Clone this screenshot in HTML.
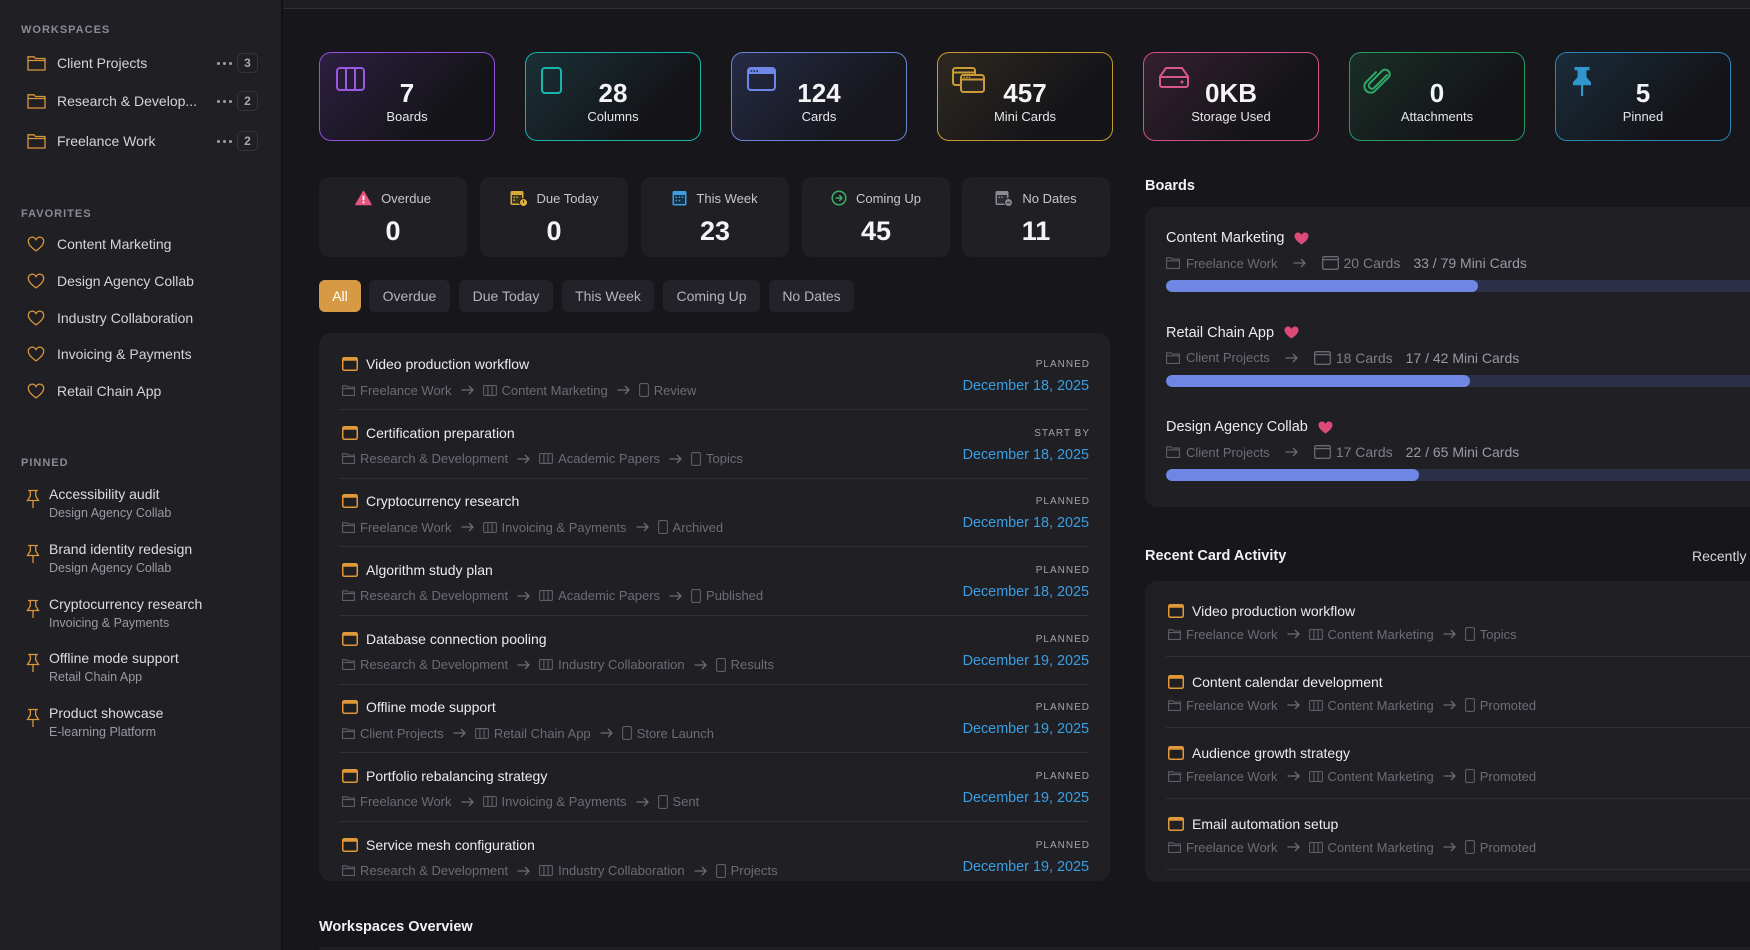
<!DOCTYPE html>
<html><head><meta charset="utf-8">
<style>
*{box-sizing:border-box;margin:0;padding:0}
html,body{width:1750px;height:950px;overflow:hidden;background:#16161b;font-family:"Liberation Sans",sans-serif;color:#e6e6eb}
#root{position:relative;width:1750px;height:950px;overflow:hidden;background:#16161b}
#side{position:absolute;left:0;top:0;width:283px;height:950px;background:#1f1f24;border-right:2px solid #111114}
.sh{position:absolute;left:21px;font-size:11px;font-weight:bold;letter-spacing:1px;color:#8a8a94;line-height:12px}
.si{position:absolute;left:0;width:281px;height:30px;font-size:14px;color:#d4d4da;line-height:30px}
.si svg{position:absolute;left:27px;top:7px}
.si .t{position:absolute;left:57px;top:0}
.dots{position:absolute;left:217px;top:14px;width:15px;height:3px}
.dots i{position:absolute;top:0;width:3px;height:3px;border-radius:50%;background:#a0a0a8}
.badge{position:absolute;left:237px;top:5px;width:21px;height:20px;border:1px solid #34343b;border-radius:5px;font-size:12px;font-weight:bold;color:#a8a8b0;text-align:center;line-height:18px}
.pi{position:absolute;left:0;width:281px;height:40px}
.pi svg{position:absolute;left:26px;top:4px}
.pi .a{position:absolute;left:49px;top:0;font-size:14px;color:#dcdce2;line-height:18px}
.pi .b{position:absolute;left:49px;top:20px;font-size:12.5px;color:#9a9aa4;line-height:16px}
#top{position:absolute;left:283px;top:0;width:1467px;height:9px;background:#1d1d22;border-bottom:1px solid #2e2e35}
.sc{position:absolute;top:52px;width:176px;height:89px;border:1.5px solid;border-radius:12px}
.sc svg{position:absolute}
.sc .n{position:absolute;left:0;right:0;top:26px;text-align:center;font-size:26px;font-weight:bold;line-height:28px;color:#f4f4f7}
.sc .l{position:absolute;left:0;right:0;top:56px;text-align:center;font-size:13px;line-height:16px;color:#e6e6ea}
.tb{position:absolute;top:177px;width:148px;height:80px;background:#1f1f24;border-radius:10px}
.tb .h{position:absolute;left:0;right:0;top:12px;height:18px;display:flex;justify-content:center;align-items:center;font-size:13px;color:#c6c6ce}
.tb .h svg{margin-right:9px}
.tb .v{position:absolute;left:0;right:0;top:40px;text-align:center;font-size:27px;font-weight:bold;line-height:28px;color:#f4f4f7}
.chip{position:absolute;top:280px;height:32px;border-radius:6px;background:#222228;font-size:14px;color:#b4b4bc;text-align:center;line-height:32px}
.panel{position:absolute;background:#1f1f24;border-radius:12px;overflow:hidden}
.tr{position:absolute;left:20px;right:21px;height:69px;border-bottom:1px solid #2f2f36}
.tt{position:absolute;left:3px;top:14px;height:18px;display:flex;align-items:center;font-size:14px;color:#ececf0;white-space:nowrap}
.tt svg{margin-right:8px}
.tm{position:absolute;left:3px;top:40px;height:18px;display:flex;align-items:center;font-size:13px;color:#6c6c76;white-space:nowrap}
.tm .ic{margin-right:5px}
.tm .ar{margin:0 9px}
.ts{position:absolute;right:-1px;top:18px;font-size:10px;letter-spacing:1px;color:#a3a3ab;line-height:12px}
.td{position:absolute;right:0;top:36px;font-size:14.4px;color:#3a9fe2;line-height:18px}
.hd{position:absolute;font-size:14.5px;font-weight:bold;color:#f2f2f5;line-height:18px}
.bi{position:absolute;left:21px;right:0;height:90px}
.bt{position:absolute;left:0;top:22px;height:18px;display:flex;align-items:center;font-size:14.5px;color:#ececf0;white-space:nowrap}
.bt svg{margin-left:10px}
.bm{position:absolute;left:0;top:47px;height:18px;display:flex;align-items:center;font-size:13px;color:#6c6c76;white-space:nowrap}
.bm .cc{font-size:14px;color:#7e7e88}
.bm .mc{font-size:14px;color:#9a9aa6;margin-left:13px}
.bar{position:absolute;left:0;top:73px;width:748px;height:12px;border-radius:6px;background:#2c3048;overflow:hidden}
.bar i{position:absolute;left:0;top:0;height:12px;border-radius:6px;background:#6f87e2}
.ar2{position:absolute;left:21px;right:21px;height:71px;border-bottom:1px solid #2f2f36}
.ar2 .tt{left:2px;top:16px}
.ar2 .tm{left:2px;top:39px}
</style></head><body>
<div id="root">

<div id="side">
  <div class="sh" style="top:24px">WORKSPACES</div>
  <div class="si" style="top:48px"><svg width="19" height="16" viewBox="0 0 19 16"><path d="M1 1.8h6l1.4 1.7H18V15H1z M1 5.5h17" fill="none" stroke="#d9963a" stroke-width="1.3"/></svg><span class="t">Client Projects</span><div class="dots"><i style="left:0"></i><i style="left:6px"></i><i style="left:12px"></i></div><div class="badge">3</div></div>
  <div class="si" style="top:86px"><svg width="19" height="16" viewBox="0 0 19 16"><path d="M1 1.8h6l1.4 1.7H18V15H1z M1 5.5h17" fill="none" stroke="#d9963a" stroke-width="1.3"/></svg><span class="t">Research &amp; Develop...</span><div class="dots"><i style="left:0"></i><i style="left:6px"></i><i style="left:12px"></i></div><div class="badge">2</div></div>
  <div class="si" style="top:126px"><svg width="19" height="16" viewBox="0 0 19 16"><path d="M1 1.8h6l1.4 1.7H18V15H1z M1 5.5h17" fill="none" stroke="#d9963a" stroke-width="1.3"/></svg><span class="t">Freelance Work</span><div class="dots"><i style="left:0"></i><i style="left:6px"></i><i style="left:12px"></i></div><div class="badge">2</div></div>

  <div class="sh" style="top:208px">FAVORITES</div>
  <div class="si" style="top:229px"><svg width="18" height="16" viewBox="0 0 18 16"><path d="M9 14.8C9 14.8 1.3 10 1.3 5.2 1.3 2.8 3.1 1.1 5.2 1.1 7 1.1 8.3 2.3 9 3.6 9.7 2.3 11 1.1 12.8 1.1 14.9 1.1 16.7 2.8 16.7 5.2 16.7 10 9 14.8 9 14.8Z" fill="none" stroke="#d9963a" stroke-width="1.3"/></svg><span class="t">Content Marketing</span></div>
  <div class="si" style="top:266px"><svg width="18" height="16" viewBox="0 0 18 16"><path d="M9 14.8C9 14.8 1.3 10 1.3 5.2 1.3 2.8 3.1 1.1 5.2 1.1 7 1.1 8.3 2.3 9 3.6 9.7 2.3 11 1.1 12.8 1.1 14.9 1.1 16.7 2.8 16.7 5.2 16.7 10 9 14.8 9 14.8Z" fill="none" stroke="#d9963a" stroke-width="1.3"/></svg><span class="t">Design Agency Collab</span></div>
  <div class="si" style="top:303px"><svg width="18" height="16" viewBox="0 0 18 16"><path d="M9 14.8C9 14.8 1.3 10 1.3 5.2 1.3 2.8 3.1 1.1 5.2 1.1 7 1.1 8.3 2.3 9 3.6 9.7 2.3 11 1.1 12.8 1.1 14.9 1.1 16.7 2.8 16.7 5.2 16.7 10 9 14.8 9 14.8Z" fill="none" stroke="#d9963a" stroke-width="1.3"/></svg><span class="t">Industry Collaboration</span></div>
  <div class="si" style="top:339px"><svg width="18" height="16" viewBox="0 0 18 16"><path d="M9 14.8C9 14.8 1.3 10 1.3 5.2 1.3 2.8 3.1 1.1 5.2 1.1 7 1.1 8.3 2.3 9 3.6 9.7 2.3 11 1.1 12.8 1.1 14.9 1.1 16.7 2.8 16.7 5.2 16.7 10 9 14.8 9 14.8Z" fill="none" stroke="#d9963a" stroke-width="1.3"/></svg><span class="t">Invoicing &amp; Payments</span></div>
  <div class="si" style="top:376px"><svg width="18" height="16" viewBox="0 0 18 16"><path d="M9 14.8C9 14.8 1.3 10 1.3 5.2 1.3 2.8 3.1 1.1 5.2 1.1 7 1.1 8.3 2.3 9 3.6 9.7 2.3 11 1.1 12.8 1.1 14.9 1.1 16.7 2.8 16.7 5.2 16.7 10 9 14.8 9 14.8Z" fill="none" stroke="#d9963a" stroke-width="1.3"/></svg><span class="t">Retail Chain App</span></div>

  <div class="sh" style="top:457px">PINNED</div>
  <div class="pi" style="top:485px"><svg width="14" height="20" viewBox="0 0 14 20"><path d="M2 1.5h10M4.3 1.5v5.5L1.5 11.5h11L9.7 7V1.5M7 11.5V19" fill="none" stroke="#d9963a" stroke-width="1.3"/></svg><div class="a">Accessibility audit</div><div class="b">Design Agency Collab</div></div>
  <div class="pi" style="top:540px"><svg width="14" height="20" viewBox="0 0 14 20"><path d="M2 1.5h10M4.3 1.5v5.5L1.5 11.5h11L9.7 7V1.5M7 11.5V19" fill="none" stroke="#d9963a" stroke-width="1.3"/></svg><div class="a">Brand identity redesign</div><div class="b">Design Agency Collab</div></div>
  <div class="pi" style="top:595px"><svg width="14" height="20" viewBox="0 0 14 20"><path d="M2 1.5h10M4.3 1.5v5.5L1.5 11.5h11L9.7 7V1.5M7 11.5V19" fill="none" stroke="#d9963a" stroke-width="1.3"/></svg><div class="a">Cryptocurrency research</div><div class="b">Invoicing &amp; Payments</div></div>
  <div class="pi" style="top:649px"><svg width="14" height="20" viewBox="0 0 14 20"><path d="M2 1.5h10M4.3 1.5v5.5L1.5 11.5h11L9.7 7V1.5M7 11.5V19" fill="none" stroke="#d9963a" stroke-width="1.3"/></svg><div class="a">Offline mode support</div><div class="b">Retail Chain App</div></div>
  <div class="pi" style="top:704px"><svg width="14" height="20" viewBox="0 0 14 20"><path d="M2 1.5h10M4.3 1.5v5.5L1.5 11.5h11L9.7 7V1.5M7 11.5V19" fill="none" stroke="#d9963a" stroke-width="1.3"/></svg><div class="a">Product showcase</div><div class="b">E-learning Platform</div></div>
</div>

<div id="top"></div>

<!-- stat cards -->
<div class="sc" style="left:319px;border-color:#9152d8;background:linear-gradient(135deg,#2c1f40 0%,#141418 72%)">
  <svg style="left:16px;top:14px" width="29" height="24" viewBox="0 0 29 24"><rect x="1" y="1" width="27" height="22" rx="3" fill="none" stroke="#9b58e0" stroke-width="2"/><path d="M10 1v22M19 1v22" stroke="#9b58e0" stroke-width="2"/></svg>
  <div class="n">7</div><div class="l">Boards</div></div>
<div class="sc" style="left:525px;border-color:#17b3aa;background:linear-gradient(135deg,#1a3036 0%,#141418 72%)">
  <svg style="left:15px;top:14px" width="21" height="27" viewBox="0 0 21 27"><rect x="1" y="1" width="19" height="25" rx="3" fill="none" stroke="#18b5ac" stroke-width="2"/></svg>
  <div class="n">28</div><div class="l">Columns</div></div>
<div class="sc" style="left:731px;border-color:#6a84d8;background:linear-gradient(135deg,#262b46 0%,#16161c 72%)">
  <svg style="left:15px;top:14px" width="29" height="24" viewBox="0 0 29 24"><rect x="1" y="1" width="27" height="22" rx="3" fill="none" stroke="#6e88e8" stroke-width="2"/><path d="M1 4a3 3 0 0 1 3-3h21a3 3 0 0 1 3 3v3H1z" fill="#6e88e8"/><circle cx="4.5" cy="4" r="0.9" fill="#1a1d2e"/><circle cx="7.3" cy="4" r="0.9" fill="#1a1d2e"/><circle cx="10.1" cy="4" r="0.9" fill="#1a1d2e"/></svg>
  <div class="n">124</div><div class="l">Cards</div></div>
<div class="sc" style="left:937px;border-color:#c89a35;background:linear-gradient(135deg,#2e2820 0%,#141418 72%)">
  <svg style="left:14px;top:14px" width="33" height="26" viewBox="0 0 33 26"><rect x="1" y="1" width="22" height="17" rx="2.5" fill="none" stroke="#c99c38" stroke-width="2"/><path d="M1 5.5h22" stroke="#c99c38" stroke-width="2"/><rect x="9" y="8" width="23" height="17" rx="2.5" fill="#2a2520" stroke="#c99c38" stroke-width="2"/><path d="M9 12.5h23" stroke="#c99c38" stroke-width="2"/><circle cx="12.5" cy="10.3" r="0.8" fill="#c99c38"/><circle cx="15" cy="10.3" r="0.8" fill="#c99c38"/><circle cx="17.5" cy="10.3" r="0.8" fill="#c99c38"/></svg>
  <div class="n">457</div><div class="l">Mini Cards</div></div>
<div class="sc" style="left:1143px;border-color:#d0508a;background:linear-gradient(135deg,#34202f 0%,#141418 72%)">
  <svg style="left:15px;top:14px" width="30" height="21" viewBox="0 0 30 21"><path d="M7 1h16l6 8.5V18a2 2 0 0 1-2 2H3a2 2 0 0 1-2-2V9.5z" fill="none" stroke="#d6578f" stroke-width="2" stroke-linejoin="round"/><path d="M1 10h28" stroke="#d6578f" stroke-width="2"/><circle cx="23" cy="15" r="1.5" fill="#d6578f"/></svg>
  <div class="n">0KB</div><div class="l">Storage Used</div></div>
<div class="sc" style="left:1349px;border-color:#2b9a62;background:linear-gradient(135deg,#1a2e26 0%,#141418 72%)">
  <svg style="left:13px;top:13px" width="28" height="28" viewBox="0 0 28 28"><path d="M24 6 L11 19 a3.2 3.2 0 0 1-4.5-4.5 L19 2 a4.5 4.5 0 0 1 6.4 6.4 L12 21.8 a6.2 6.2 0 0 1-8.8-8.8 L13 3.2" fill="none" stroke="#2fa866" stroke-width="2" stroke-linecap="round" transform="translate(0,3)"/></svg>
  <div class="n">0</div><div class="l">Attachments</div></div>
<div class="sc" style="left:1555px;border-color:#2a85b5;background:linear-gradient(135deg,#1a2c3a 0%,#141418 72%)">
  <svg style="left:15px;top:13px" width="22" height="32" viewBox="0 0 22 32"><path d="M3.5 1h15v3.2h-3v7l4.5 5v3H2v-3l4.5-5v-7h-3z" fill="#2f97cc"/><rect x="10" y="18" width="2.2" height="12" fill="#2f97cc"/></svg>
  <div class="n">5</div><div class="l">Pinned</div></div>

<!-- timeline boxes -->
<div class="tb" style="left:319px"><div class="h"><svg width="17" height="16" viewBox="0 0 17 16"><path d="M8.5 1.5L16 14.5H1z" fill="#e4557f" stroke="#e4557f" stroke-linejoin="round" stroke-width="1.5"/><path d="M8.5 5.8v4.5" stroke="#fff" stroke-width="1.7"/><circle cx="8.5" cy="12.4" r="1" fill="#fff"/></svg>Overdue</div><div class="v">0</div></div>
<div class="tb" style="left:480px"><div class="h"><svg width="18" height="17" viewBox="0 0 18 17"><rect x="0.5" y="1" width="13" height="14" rx="1.5" fill="#d8aa3a"/><rect x="2" y="5" width="10" height="8.5" fill="#3a3320"/><rect x="3.5" y="6.5" width="1.5" height="1.5" fill="#d8aa3a"/><rect x="6.2" y="6.5" width="1.5" height="1.5" fill="#d8aa3a"/><rect x="3.5" y="9.5" width="1.5" height="1.5" fill="#d8aa3a"/><circle cx="13.5" cy="12.5" r="4" fill="#e6b43c" stroke="#1f1f24" stroke-width="1"/><path d="M13.5 10.3v2.6" stroke="#3a3320" stroke-width="1.2"/></svg>Due Today</div><div class="v">0</div></div>
<div class="tb" style="left:641px"><div class="h"><svg width="15" height="16" viewBox="0 0 15 16"><rect x="0.5" y="1" width="14" height="14.5" rx="1.5" fill="#3d9fe2"/><rect x="2" y="5" width="11" height="9" fill="#173248"/><rect x="3.5" y="6.5" width="1.5" height="1.5" fill="#3d9fe2"/><rect x="6.7" y="6.5" width="1.5" height="1.5" fill="#3d9fe2"/><rect x="9.9" y="6.5" width="1.5" height="1.5" fill="#3d9fe2"/><rect x="3.5" y="9.8" width="1.5" height="1.5" fill="#3d9fe2"/><rect x="6.7" y="9.8" width="1.5" height="1.5" fill="#3d9fe2"/></svg>This Week</div><div class="v">23</div></div>
<div class="tb" style="left:802px"><div class="h"><svg width="16" height="16" viewBox="0 0 16 16"><circle cx="8" cy="8" r="6.8" fill="none" stroke="#3bb06a" stroke-width="1.5"/><path d="M4.5 8h6.5M8.3 5.2L11 8l-2.7 2.8" fill="none" stroke="#3bb06a" stroke-width="1.5"/></svg>Coming Up</div><div class="v">45</div></div>
<div class="tb" style="left:962px"><div class="h"><svg width="18" height="17" viewBox="0 0 18 17"><rect x="0.5" y="1" width="13" height="14" rx="1.5" fill="#8a8a94"/><rect x="2" y="5" width="10" height="8.5" fill="#2c2c33"/><rect x="3.5" y="6.5" width="1.5" height="1.5" fill="#8a8a94"/><rect x="6.2" y="6.5" width="1.5" height="1.5" fill="#8a8a94"/><circle cx="13.5" cy="12.5" r="4" fill="#8a8a94" stroke="#1f1f24" stroke-width="1"/><path d="M11.6 12.5h3.8" stroke="#2c2c33" stroke-width="1.3"/></svg>No Dates</div><div class="v">11</div></div>

<!-- chips -->
<div class="chip" style="left:319px;width:42px;background:#d69a45;color:#fff">All</div>
<div class="chip" style="left:369px;width:81px">Overdue</div>
<div class="chip" style="left:459px;width:94px">Due Today</div>
<div class="chip" style="left:562px;width:92px">This Week</div>
<div class="chip" style="left:663px;width:97px">Coming Up</div>
<div class="chip" style="left:769px;width:85px">No Dates</div>

<!-- task panel -->
<div class="panel" style="left:319px;top:333px;width:791px;height:548px">
<div class="tr" style="top:8px"><div class="tt"><svg width="16" height="14" viewBox="0 0 16 14"><rect x="0.75" y="0.75" width="14.5" height="12.5" rx="1.5" fill="none" stroke="#e0983a" stroke-width="1.5"/><rect x="0.75" y="0.75" width="14.5" height="3" fill="#e0983a"/></svg>Video production workflow</div><div class="tm"><svg class="ic" width="13" height="11" viewBox="0 0 13 11"><path d="M.6 .8h4.2l1 1.2h6.6v8.4H.6z M.6 3.6h11.8" fill="none" stroke="#5e5e68" stroke-width="1.1"/></svg>Freelance Work<svg class="ar" width="13" height="10" viewBox="0 0 13 10"><path d="M.5 5h11.5M8 1l4 4-4 4" fill="none" stroke="#6c6c76" stroke-width="1.3"/></svg><svg class="ic" width="14" height="11" viewBox="0 0 14 11"><rect x=".6" y=".6" width="12.8" height="9.8" rx="1" fill="none" stroke="#5e5e68" stroke-width="1.1"/><path d="M4.9 .6v9.8M9.1 .6v9.8" stroke="#5e5e68" stroke-width="1.1"/></svg>Content Marketing<svg class="ar" width="13" height="10" viewBox="0 0 13 10"><path d="M.5 5h11.5M8 1l4 4-4 4" fill="none" stroke="#6c6c76" stroke-width="1.3"/></svg><svg class="ic" width="10" height="14" viewBox="0 0 10 14"><rect x=".6" y=".6" width="8.8" height="12.8" rx="1.5" fill="none" stroke="#5e5e68" stroke-width="1.1"/></svg>Review</div><div class="ts">PLANNED</div><div class="td">December 18, 2025</div></div>

<div class="tr" style="top:76.65px"><div class="tt"><svg width="16" height="14" viewBox="0 0 16 14"><rect x="0.75" y="0.75" width="14.5" height="12.5" rx="1.5" fill="none" stroke="#e0983a" stroke-width="1.5"/><rect x="0.75" y="0.75" width="14.5" height="3" fill="#e0983a"/></svg>Certification preparation</div><div class="tm"><svg class="ic" width="13" height="11" viewBox="0 0 13 11"><path d="M.6 .8h4.2l1 1.2h6.6v8.4H.6z M.6 3.6h11.8" fill="none" stroke="#5e5e68" stroke-width="1.1"/></svg>Research &amp; Development<svg class="ar" width="13" height="10" viewBox="0 0 13 10"><path d="M.5 5h11.5M8 1l4 4-4 4" fill="none" stroke="#6c6c76" stroke-width="1.3"/></svg><svg class="ic" width="14" height="11" viewBox="0 0 14 11"><rect x=".6" y=".6" width="12.8" height="9.8" rx="1" fill="none" stroke="#5e5e68" stroke-width="1.1"/><path d="M4.9 .6v9.8M9.1 .6v9.8" stroke="#5e5e68" stroke-width="1.1"/></svg>Academic Papers<svg class="ar" width="13" height="10" viewBox="0 0 13 10"><path d="M.5 5h11.5M8 1l4 4-4 4" fill="none" stroke="#6c6c76" stroke-width="1.3"/></svg><svg class="ic" width="10" height="14" viewBox="0 0 10 14"><rect x=".6" y=".6" width="8.8" height="12.8" rx="1.5" fill="none" stroke="#5e5e68" stroke-width="1.1"/></svg>Topics</div><div class="ts">START BY</div><div class="td">December 18, 2025</div></div>

<div class="tr" style="top:145.3px"><div class="tt"><svg width="16" height="14" viewBox="0 0 16 14"><rect x="0.75" y="0.75" width="14.5" height="12.5" rx="1.5" fill="none" stroke="#e0983a" stroke-width="1.5"/><rect x="0.75" y="0.75" width="14.5" height="3" fill="#e0983a"/></svg>Cryptocurrency research</div><div class="tm"><svg class="ic" width="13" height="11" viewBox="0 0 13 11"><path d="M.6 .8h4.2l1 1.2h6.6v8.4H.6z M.6 3.6h11.8" fill="none" stroke="#5e5e68" stroke-width="1.1"/></svg>Freelance Work<svg class="ar" width="13" height="10" viewBox="0 0 13 10"><path d="M.5 5h11.5M8 1l4 4-4 4" fill="none" stroke="#6c6c76" stroke-width="1.3"/></svg><svg class="ic" width="14" height="11" viewBox="0 0 14 11"><rect x=".6" y=".6" width="12.8" height="9.8" rx="1" fill="none" stroke="#5e5e68" stroke-width="1.1"/><path d="M4.9 .6v9.8M9.1 .6v9.8" stroke="#5e5e68" stroke-width="1.1"/></svg>Invoicing &amp; Payments<svg class="ar" width="13" height="10" viewBox="0 0 13 10"><path d="M.5 5h11.5M8 1l4 4-4 4" fill="none" stroke="#6c6c76" stroke-width="1.3"/></svg><svg class="ic" width="10" height="14" viewBox="0 0 10 14"><rect x=".6" y=".6" width="8.8" height="12.8" rx="1.5" fill="none" stroke="#5e5e68" stroke-width="1.1"/></svg>Archived</div><div class="ts">PLANNED</div><div class="td">December 18, 2025</div></div>

<div class="tr" style="top:213.95px"><div class="tt"><svg width="16" height="14" viewBox="0 0 16 14"><rect x="0.75" y="0.75" width="14.5" height="12.5" rx="1.5" fill="none" stroke="#e0983a" stroke-width="1.5"/><rect x="0.75" y="0.75" width="14.5" height="3" fill="#e0983a"/></svg>Algorithm study plan</div><div class="tm"><svg class="ic" width="13" height="11" viewBox="0 0 13 11"><path d="M.6 .8h4.2l1 1.2h6.6v8.4H.6z M.6 3.6h11.8" fill="none" stroke="#5e5e68" stroke-width="1.1"/></svg>Research &amp; Development<svg class="ar" width="13" height="10" viewBox="0 0 13 10"><path d="M.5 5h11.5M8 1l4 4-4 4" fill="none" stroke="#6c6c76" stroke-width="1.3"/></svg><svg class="ic" width="14" height="11" viewBox="0 0 14 11"><rect x=".6" y=".6" width="12.8" height="9.8" rx="1" fill="none" stroke="#5e5e68" stroke-width="1.1"/><path d="M4.9 .6v9.8M9.1 .6v9.8" stroke="#5e5e68" stroke-width="1.1"/></svg>Academic Papers<svg class="ar" width="13" height="10" viewBox="0 0 13 10"><path d="M.5 5h11.5M8 1l4 4-4 4" fill="none" stroke="#6c6c76" stroke-width="1.3"/></svg><svg class="ic" width="10" height="14" viewBox="0 0 10 14"><rect x=".6" y=".6" width="8.8" height="12.8" rx="1.5" fill="none" stroke="#5e5e68" stroke-width="1.1"/></svg>Published</div><div class="ts">PLANNED</div><div class="td">December 18, 2025</div></div>

<div class="tr" style="top:282.6px"><div class="tt"><svg width="16" height="14" viewBox="0 0 16 14"><rect x="0.75" y="0.75" width="14.5" height="12.5" rx="1.5" fill="none" stroke="#e0983a" stroke-width="1.5"/><rect x="0.75" y="0.75" width="14.5" height="3" fill="#e0983a"/></svg>Database connection pooling</div><div class="tm"><svg class="ic" width="13" height="11" viewBox="0 0 13 11"><path d="M.6 .8h4.2l1 1.2h6.6v8.4H.6z M.6 3.6h11.8" fill="none" stroke="#5e5e68" stroke-width="1.1"/></svg>Research &amp; Development<svg class="ar" width="13" height="10" viewBox="0 0 13 10"><path d="M.5 5h11.5M8 1l4 4-4 4" fill="none" stroke="#6c6c76" stroke-width="1.3"/></svg><svg class="ic" width="14" height="11" viewBox="0 0 14 11"><rect x=".6" y=".6" width="12.8" height="9.8" rx="1" fill="none" stroke="#5e5e68" stroke-width="1.1"/><path d="M4.9 .6v9.8M9.1 .6v9.8" stroke="#5e5e68" stroke-width="1.1"/></svg>Industry Collaboration<svg class="ar" width="13" height="10" viewBox="0 0 13 10"><path d="M.5 5h11.5M8 1l4 4-4 4" fill="none" stroke="#6c6c76" stroke-width="1.3"/></svg><svg class="ic" width="10" height="14" viewBox="0 0 10 14"><rect x=".6" y=".6" width="8.8" height="12.8" rx="1.5" fill="none" stroke="#5e5e68" stroke-width="1.1"/></svg>Results</div><div class="ts">PLANNED</div><div class="td">December 19, 2025</div></div>

<div class="tr" style="top:351.25px"><div class="tt"><svg width="16" height="14" viewBox="0 0 16 14"><rect x="0.75" y="0.75" width="14.5" height="12.5" rx="1.5" fill="none" stroke="#e0983a" stroke-width="1.5"/><rect x="0.75" y="0.75" width="14.5" height="3" fill="#e0983a"/></svg>Offline mode support</div><div class="tm"><svg class="ic" width="13" height="11" viewBox="0 0 13 11"><path d="M.6 .8h4.2l1 1.2h6.6v8.4H.6z M.6 3.6h11.8" fill="none" stroke="#5e5e68" stroke-width="1.1"/></svg>Client Projects<svg class="ar" width="13" height="10" viewBox="0 0 13 10"><path d="M.5 5h11.5M8 1l4 4-4 4" fill="none" stroke="#6c6c76" stroke-width="1.3"/></svg><svg class="ic" width="14" height="11" viewBox="0 0 14 11"><rect x=".6" y=".6" width="12.8" height="9.8" rx="1" fill="none" stroke="#5e5e68" stroke-width="1.1"/><path d="M4.9 .6v9.8M9.1 .6v9.8" stroke="#5e5e68" stroke-width="1.1"/></svg>Retail Chain App<svg class="ar" width="13" height="10" viewBox="0 0 13 10"><path d="M.5 5h11.5M8 1l4 4-4 4" fill="none" stroke="#6c6c76" stroke-width="1.3"/></svg><svg class="ic" width="10" height="14" viewBox="0 0 10 14"><rect x=".6" y=".6" width="8.8" height="12.8" rx="1.5" fill="none" stroke="#5e5e68" stroke-width="1.1"/></svg>Store Launch</div><div class="ts">PLANNED</div><div class="td">December 19, 2025</div></div>

<div class="tr" style="top:419.9px"><div class="tt"><svg width="16" height="14" viewBox="0 0 16 14"><rect x="0.75" y="0.75" width="14.5" height="12.5" rx="1.5" fill="none" stroke="#e0983a" stroke-width="1.5"/><rect x="0.75" y="0.75" width="14.5" height="3" fill="#e0983a"/></svg>Portfolio rebalancing strategy</div><div class="tm"><svg class="ic" width="13" height="11" viewBox="0 0 13 11"><path d="M.6 .8h4.2l1 1.2h6.6v8.4H.6z M.6 3.6h11.8" fill="none" stroke="#5e5e68" stroke-width="1.1"/></svg>Freelance Work<svg class="ar" width="13" height="10" viewBox="0 0 13 10"><path d="M.5 5h11.5M8 1l4 4-4 4" fill="none" stroke="#6c6c76" stroke-width="1.3"/></svg><svg class="ic" width="14" height="11" viewBox="0 0 14 11"><rect x=".6" y=".6" width="12.8" height="9.8" rx="1" fill="none" stroke="#5e5e68" stroke-width="1.1"/><path d="M4.9 .6v9.8M9.1 .6v9.8" stroke="#5e5e68" stroke-width="1.1"/></svg>Invoicing &amp; Payments<svg class="ar" width="13" height="10" viewBox="0 0 13 10"><path d="M.5 5h11.5M8 1l4 4-4 4" fill="none" stroke="#6c6c76" stroke-width="1.3"/></svg><svg class="ic" width="10" height="14" viewBox="0 0 10 14"><rect x=".6" y=".6" width="8.8" height="12.8" rx="1.5" fill="none" stroke="#5e5e68" stroke-width="1.1"/></svg>Sent</div><div class="ts">PLANNED</div><div class="td">December 19, 2025</div></div>

<div class="tr" style="top:488.55px"><div class="tt"><svg width="16" height="14" viewBox="0 0 16 14"><rect x="0.75" y="0.75" width="14.5" height="12.5" rx="1.5" fill="none" stroke="#e0983a" stroke-width="1.5"/><rect x="0.75" y="0.75" width="14.5" height="3" fill="#e0983a"/></svg>Service mesh configuration</div><div class="tm"><svg class="ic" width="13" height="11" viewBox="0 0 13 11"><path d="M.6 .8h4.2l1 1.2h6.6v8.4H.6z M.6 3.6h11.8" fill="none" stroke="#5e5e68" stroke-width="1.1"/></svg>Research &amp; Development<svg class="ar" width="13" height="10" viewBox="0 0 13 10"><path d="M.5 5h11.5M8 1l4 4-4 4" fill="none" stroke="#6c6c76" stroke-width="1.3"/></svg><svg class="ic" width="14" height="11" viewBox="0 0 14 11"><rect x=".6" y=".6" width="12.8" height="9.8" rx="1" fill="none" stroke="#5e5e68" stroke-width="1.1"/><path d="M4.9 .6v9.8M9.1 .6v9.8" stroke="#5e5e68" stroke-width="1.1"/></svg>Industry Collaboration<svg class="ar" width="13" height="10" viewBox="0 0 13 10"><path d="M.5 5h11.5M8 1l4 4-4 4" fill="none" stroke="#6c6c76" stroke-width="1.3"/></svg><svg class="ic" width="10" height="14" viewBox="0 0 10 14"><rect x=".6" y=".6" width="8.8" height="12.8" rx="1.5" fill="none" stroke="#5e5e68" stroke-width="1.1"/></svg>Projects</div><div class="ts">PLANNED</div><div class="td">December 19, 2025</div></div>
</div>

<!-- Boards -->
<div class="hd" style="left:1145px;top:177px">Boards</div>
<div class="panel" style="left:1145px;top:207px;width:790px;height:300px">
  <div class="bi" style="top:0">
    <div class="bt">Content Marketing<svg width="15" height="13" viewBox="0 0 15 13"><path d="M7.5 12.5C7.5 12.5 .5 8.3 .5 4 .5 2 2 .5 3.9 .5 5.5 .5 6.8 1.5 7.5 2.7 8.2 1.5 9.5 .5 11.1 .5 13 .5 14.5 2 14.5 4 14.5 8.3 7.5 12.5 7.5 12.5Z" fill="#dc4a78"/></svg></div>
    <div class="bm"><svg width="14" height="12" viewBox="0 0 14 12" style="margin-right:6px"><path d="M.6 .8h4.5l1.1 1.3h7.2v9.3H.6z M.6 3.8h12.8" fill="none" stroke="#5e5e68" stroke-width="1.1"/></svg>Freelance Work<svg width="13" height="10" viewBox="0 0 13 10" style="margin:0 16px 0 15px"><path d="M.5 5h11.5M8 1l4 4-4 4" fill="none" stroke="#6c6c76" stroke-width="1.3"/></svg><svg width="17" height="14" viewBox="0 0 17 14" style="margin-right:5px"><rect x=".7" y=".7" width="15.6" height="12.6" rx="1.5" fill="none" stroke="#6a6a74" stroke-width="1.3"/><path d="M.7 3.6h15.6" stroke="#6a6a74" stroke-width="1.3"/></svg><span class="cc">20 Cards</span><span class="mc">33 / 79 Mini Cards</span></div>
    <div class="bar"><i style="width:312px"></i></div>
  </div>
  <div class="bi" style="top:94.5px">
    <div class="bt">Retail Chain App<svg width="15" height="13" viewBox="0 0 15 13"><path d="M7.5 12.5C7.5 12.5 .5 8.3 .5 4 .5 2 2 .5 3.9 .5 5.5 .5 6.8 1.5 7.5 2.7 8.2 1.5 9.5 .5 11.1 .5 13 .5 14.5 2 14.5 4 14.5 8.3 7.5 12.5 7.5 12.5Z" fill="#dc4a78"/></svg></div>
    <div class="bm"><svg width="14" height="12" viewBox="0 0 14 12" style="margin-right:6px"><path d="M.6 .8h4.5l1.1 1.3h7.2v9.3H.6z M.6 3.8h12.8" fill="none" stroke="#5e5e68" stroke-width="1.1"/></svg>Client Projects<svg width="13" height="10" viewBox="0 0 13 10" style="margin:0 16px 0 15px"><path d="M.5 5h11.5M8 1l4 4-4 4" fill="none" stroke="#6c6c76" stroke-width="1.3"/></svg><svg width="17" height="14" viewBox="0 0 17 14" style="margin-right:5px"><rect x=".7" y=".7" width="15.6" height="12.6" rx="1.5" fill="none" stroke="#6a6a74" stroke-width="1.3"/><path d="M.7 3.6h15.6" stroke="#6a6a74" stroke-width="1.3"/></svg><span class="cc">18 Cards</span><span class="mc">17 / 42 Mini Cards</span></div>
    <div class="bar"><i style="width:304px"></i></div>
  </div>
  <div class="bi" style="top:189px">
    <div class="bt">Design Agency Collab<svg width="15" height="13" viewBox="0 0 15 13"><path d="M7.5 12.5C7.5 12.5 .5 8.3 .5 4 .5 2 2 .5 3.9 .5 5.5 .5 6.8 1.5 7.5 2.7 8.2 1.5 9.5 .5 11.1 .5 13 .5 14.5 2 14.5 4 14.5 8.3 7.5 12.5 7.5 12.5Z" fill="#dc4a78"/></svg></div>
    <div class="bm"><svg width="14" height="12" viewBox="0 0 14 12" style="margin-right:6px"><path d="M.6 .8h4.5l1.1 1.3h7.2v9.3H.6z M.6 3.8h12.8" fill="none" stroke="#5e5e68" stroke-width="1.1"/></svg>Client Projects<svg width="13" height="10" viewBox="0 0 13 10" style="margin:0 16px 0 15px"><path d="M.5 5h11.5M8 1l4 4-4 4" fill="none" stroke="#6c6c76" stroke-width="1.3"/></svg><svg width="17" height="14" viewBox="0 0 17 14" style="margin-right:5px"><rect x=".7" y=".7" width="15.6" height="12.6" rx="1.5" fill="none" stroke="#6a6a74" stroke-width="1.3"/><path d="M.7 3.6h15.6" stroke="#6a6a74" stroke-width="1.3"/></svg><span class="cc">17 Cards</span><span class="mc">22 / 65 Mini Cards</span></div>
    <div class="bar"><i style="width:253px"></i></div>
  </div>
</div>

<!-- Recent activity -->
<div class="hd" style="left:1145px;top:547px">Recent Card Activity</div>
<div style="position:absolute;left:1692px;top:547px;font-size:14px;color:#d6d6dc;line-height:18px;white-space:nowrap">Recently Updated</div>
<div class="panel" style="left:1145px;top:581px;width:790px;height:301px">
<div class="ar2" style="top:5px"><div class="tt"><svg width="16" height="14" viewBox="0 0 16 14"><rect x="0.75" y="0.75" width="14.5" height="12.5" rx="1.5" fill="none" stroke="#e0983a" stroke-width="1.5"/><rect x="0.75" y="0.75" width="14.5" height="3" fill="#e0983a"/></svg>Video production workflow</div><div class="tm"><svg class="ic" width="13" height="11" viewBox="0 0 13 11"><path d="M.6 .8h4.2l1 1.2h6.6v8.4H.6z M.6 3.6h11.8" fill="none" stroke="#5e5e68" stroke-width="1.1"/></svg>Freelance Work<svg class="ar" width="13" height="10" viewBox="0 0 13 10"><path d="M.5 5h11.5M8 1l4 4-4 4" fill="none" stroke="#6c6c76" stroke-width="1.3"/></svg><svg class="ic" width="14" height="11" viewBox="0 0 14 11"><rect x=".6" y=".6" width="12.8" height="9.8" rx="1" fill="none" stroke="#5e5e68" stroke-width="1.1"/><path d="M4.9 .6v9.8M9.1 .6v9.8" stroke="#5e5e68" stroke-width="1.1"/></svg>Content Marketing<svg class="ar" width="13" height="10" viewBox="0 0 13 10"><path d="M.5 5h11.5M8 1l4 4-4 4" fill="none" stroke="#6c6c76" stroke-width="1.3"/></svg><svg class="ic" width="10" height="14" viewBox="0 0 10 14"><rect x=".6" y=".6" width="8.8" height="12.8" rx="1.5" fill="none" stroke="#5e5e68" stroke-width="1.1"/></svg>Topics</div></div>
<div class="ar2" style="top:76px"><div class="tt"><svg width="16" height="14" viewBox="0 0 16 14"><rect x="0.75" y="0.75" width="14.5" height="12.5" rx="1.5" fill="none" stroke="#e0983a" stroke-width="1.5"/><rect x="0.75" y="0.75" width="14.5" height="3" fill="#e0983a"/></svg>Content calendar development</div><div class="tm"><svg class="ic" width="13" height="11" viewBox="0 0 13 11"><path d="M.6 .8h4.2l1 1.2h6.6v8.4H.6z M.6 3.6h11.8" fill="none" stroke="#5e5e68" stroke-width="1.1"/></svg>Freelance Work<svg class="ar" width="13" height="10" viewBox="0 0 13 10"><path d="M.5 5h11.5M8 1l4 4-4 4" fill="none" stroke="#6c6c76" stroke-width="1.3"/></svg><svg class="ic" width="14" height="11" viewBox="0 0 14 11"><rect x=".6" y=".6" width="12.8" height="9.8" rx="1" fill="none" stroke="#5e5e68" stroke-width="1.1"/><path d="M4.9 .6v9.8M9.1 .6v9.8" stroke="#5e5e68" stroke-width="1.1"/></svg>Content Marketing<svg class="ar" width="13" height="10" viewBox="0 0 13 10"><path d="M.5 5h11.5M8 1l4 4-4 4" fill="none" stroke="#6c6c76" stroke-width="1.3"/></svg><svg class="ic" width="10" height="14" viewBox="0 0 10 14"><rect x=".6" y=".6" width="8.8" height="12.8" rx="1.5" fill="none" stroke="#5e5e68" stroke-width="1.1"/></svg>Promoted</div></div>
<div class="ar2" style="top:147px"><div class="tt"><svg width="16" height="14" viewBox="0 0 16 14"><rect x="0.75" y="0.75" width="14.5" height="12.5" rx="1.5" fill="none" stroke="#e0983a" stroke-width="1.5"/><rect x="0.75" y="0.75" width="14.5" height="3" fill="#e0983a"/></svg>Audience growth strategy</div><div class="tm"><svg class="ic" width="13" height="11" viewBox="0 0 13 11"><path d="M.6 .8h4.2l1 1.2h6.6v8.4H.6z M.6 3.6h11.8" fill="none" stroke="#5e5e68" stroke-width="1.1"/></svg>Freelance Work<svg class="ar" width="13" height="10" viewBox="0 0 13 10"><path d="M.5 5h11.5M8 1l4 4-4 4" fill="none" stroke="#6c6c76" stroke-width="1.3"/></svg><svg class="ic" width="14" height="11" viewBox="0 0 14 11"><rect x=".6" y=".6" width="12.8" height="9.8" rx="1" fill="none" stroke="#5e5e68" stroke-width="1.1"/><path d="M4.9 .6v9.8M9.1 .6v9.8" stroke="#5e5e68" stroke-width="1.1"/></svg>Content Marketing<svg class="ar" width="13" height="10" viewBox="0 0 13 10"><path d="M.5 5h11.5M8 1l4 4-4 4" fill="none" stroke="#6c6c76" stroke-width="1.3"/></svg><svg class="ic" width="10" height="14" viewBox="0 0 10 14"><rect x=".6" y=".6" width="8.8" height="12.8" rx="1.5" fill="none" stroke="#5e5e68" stroke-width="1.1"/></svg>Promoted</div></div>
<div class="ar2" style="top:218px"><div class="tt"><svg width="16" height="14" viewBox="0 0 16 14"><rect x="0.75" y="0.75" width="14.5" height="12.5" rx="1.5" fill="none" stroke="#e0983a" stroke-width="1.5"/><rect x="0.75" y="0.75" width="14.5" height="3" fill="#e0983a"/></svg>Email automation setup</div><div class="tm"><svg class="ic" width="13" height="11" viewBox="0 0 13 11"><path d="M.6 .8h4.2l1 1.2h6.6v8.4H.6z M.6 3.6h11.8" fill="none" stroke="#5e5e68" stroke-width="1.1"/></svg>Freelance Work<svg class="ar" width="13" height="10" viewBox="0 0 13 10"><path d="M.5 5h11.5M8 1l4 4-4 4" fill="none" stroke="#6c6c76" stroke-width="1.3"/></svg><svg class="ic" width="14" height="11" viewBox="0 0 14 11"><rect x=".6" y=".6" width="12.8" height="9.8" rx="1" fill="none" stroke="#5e5e68" stroke-width="1.1"/><path d="M4.9 .6v9.8M9.1 .6v9.8" stroke="#5e5e68" stroke-width="1.1"/></svg>Content Marketing<svg class="ar" width="13" height="10" viewBox="0 0 13 10"><path d="M.5 5h11.5M8 1l4 4-4 4" fill="none" stroke="#6c6c76" stroke-width="1.3"/></svg><svg class="ic" width="10" height="14" viewBox="0 0 10 14"><rect x=".6" y=".6" width="8.8" height="12.8" rx="1.5" fill="none" stroke="#5e5e68" stroke-width="1.1"/></svg>Promoted</div></div>
</div>

<!-- Workspaces overview -->
<div class="hd" style="left:319px;top:918px">Workspaces Overview</div>
<div class="panel" style="left:319px;top:947px;width:1431px;height:3px;border-radius:12px 0 0 0"></div>

</div>
</body></html>
